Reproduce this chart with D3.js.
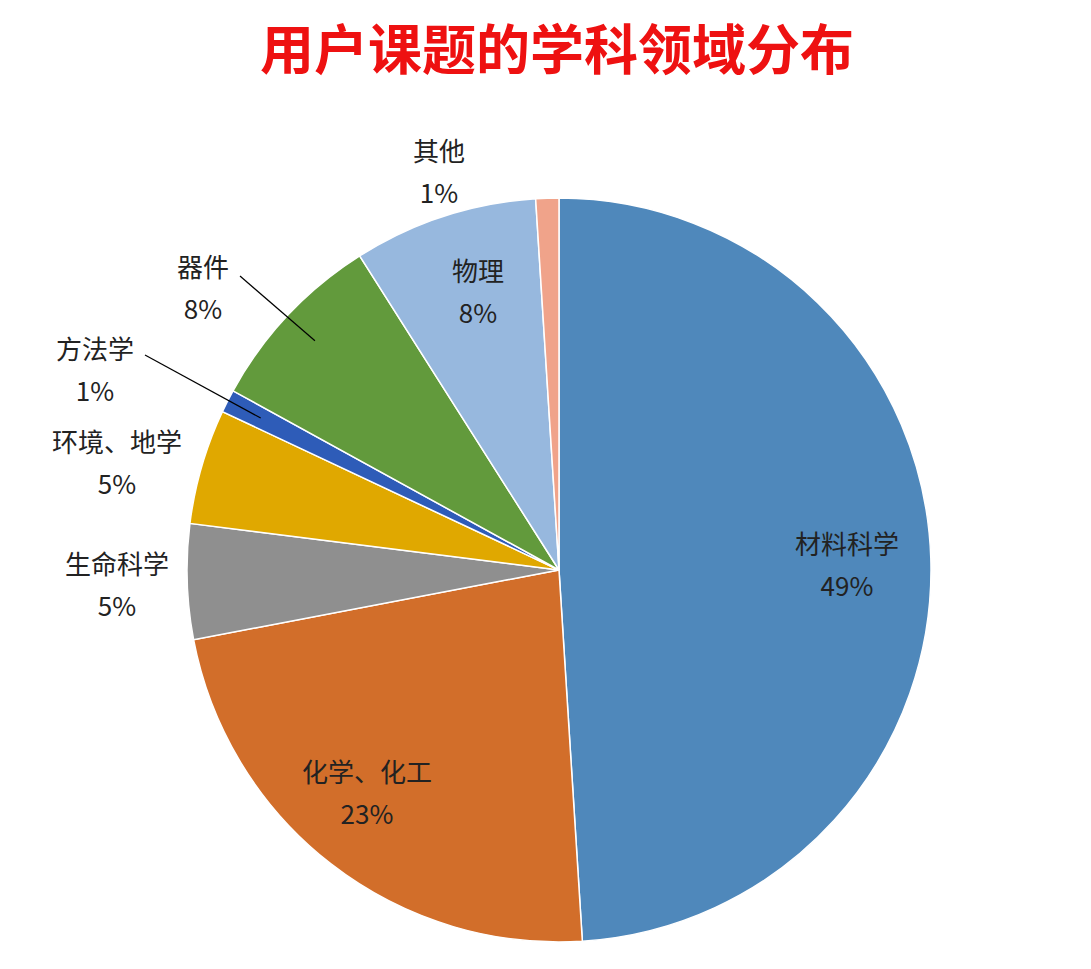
<!DOCTYPE html>
<html><head><meta charset="utf-8">
<script src="https://cdn.jsdelivr.net/npm/d3@7"></script>
<style>body{margin:0;background:#fff}svg{display:block}</style>
</head><body>
<svg id="c" width="1091" height="969"></svg>
<script>
const categories = ["材料科学","化学、化工","生命科学","环境、地学","方法学","器件","物理","其他"];
const values = [49,23,5,5,1,8,8,1];
const colors = ["#4F88BB","#D26E2A","#8F8F8F","#E0A800","#2E5CB8","#629A3C","#97B8DE","#F0A38A"];
// label anchor positions (layout)
const labelPos = [[847,545],[367,773],[117,565],[117,443],[95,350],[203,268],[478,272],[439,152]];
const leader = [null,null,null,null,[145,355],[240,276],null,null];

const svg = d3.select("#c");
const cx=559, cy=570, R=372;
svg.append("text").attr("x",557).attr("y",70).attr("text-anchor","middle")
  .attr("font-family","Noto Sans CJK SC").attr("font-weight","bold").attr("font-size",54)
  .attr("fill","#EE1111").text("用户课题的学科领域分布");

const pie = d3.pie().sort(null).value(d=>d)(values);
const arc = d3.arc().innerRadius(0).outerRadius(R);
const g = svg.append("g").attr("transform",`translate(${cx},${cy})`);
g.selectAll("path").data(pie).join("path").attr("d",arc)
  .attr("fill",(d,i)=>colors[i]).attr("stroke","#fff").attr("stroke-width",1.5);

const inner = d3.arc().innerRadius(R*0.9).outerRadius(R*0.9);
pie.forEach((d,i)=>{
  if(leader[i]){
    const c = inner.centroid(d);
    svg.append("line").attr("x1",leader[i][0]).attr("y1",leader[i][1])
      .attr("x2",cx+c[0]).attr("y2",cy+c[1]).attr("stroke","#000").attr("stroke-width",1.2);
  }
  const [x,y]=labelPos[i];
  const t = svg.append("text").attr("text-anchor","middle")
    .attr("font-family","Noto Sans CJK SC, DejaVu Sans").attr("font-size",26).attr("fill","#222");
  t.append("tspan").attr("x",x).attr("y",y+9).text(categories[i]);
  t.append("tspan").attr("x",x).attr("y",y+51).text(values[i]+"%");
});
</script>
</body></html>
